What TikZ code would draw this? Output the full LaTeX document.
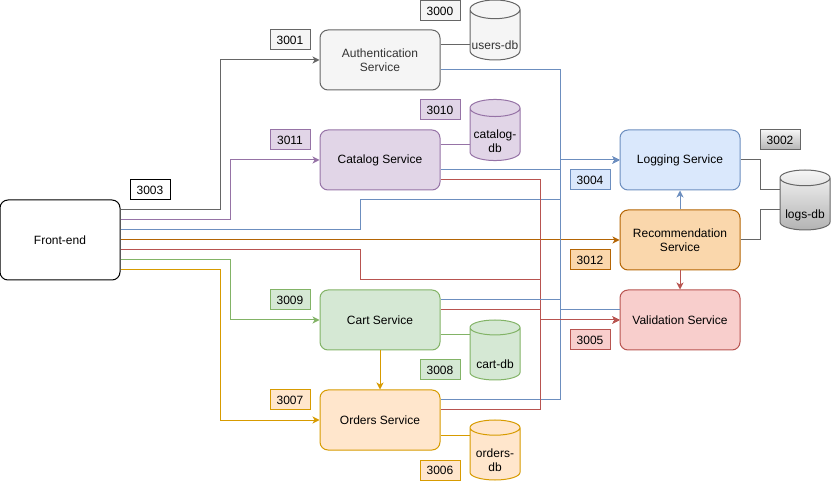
\documentclass[tikz,border=0pt]{standalone}
\usepackage{fontspec}
\setmainfont{Liberation Sans}
\usetikzlibrary{shapes.geometric,arrows.meta}

\definecolor{grayfill}{HTML}{F5F5F5}
\definecolor{grayline}{HTML}{666666}
\definecolor{graydark}{HTML}{B3B3B3}
\definecolor{purplefill}{HTML}{E1D5E7}
\definecolor{purpleline}{HTML}{9673A6}
\definecolor{bluefill}{HTML}{DAE8FC}
\definecolor{blueline}{HTML}{6C8EBF}
\definecolor{recfill}{HTML}{FAD7AC}
\definecolor{recline}{HTML}{B46504}
\definecolor{redfill}{HTML}{F8CECC}
\definecolor{redline}{HTML}{B85450}
\definecolor{greenfill}{HTML}{D5E8D4}
\definecolor{greenline}{HTML}{82B366}
\definecolor{orderfill}{HTML}{FFE6CC}
\definecolor{orderline}{HTML}{D79B00}
\definecolor{textgray}{HTML}{333333}

\tikzstyle{svc} = [draw, rounded corners=8pt, minimum width=120pt, minimum height=60pt, align=center, inner sep=2pt, font=\fontsize{12}{14}\selectfont]
\tikzstyle{port} = [draw, minimum width=40pt, minimum height=20pt, inner sep=0pt, font=\fontsize{12}{14}\selectfont]
\tikzstyle{db} = [draw, cylinder, shape border rotate=90, aspect=0.4, minimum width=50pt, minimum height=60pt, inner sep=0pt, align=center, anchor=shape center, text height=29pt, text depth=0pt, font=\fontsize{12}{14}\selectfont]

\begin{document}
\begin{tikzpicture}[x=1pt, y=-1pt, line width=1pt,
			>={Stealth[length=7pt,width=7pt,inset=2pt]},
			link/.style = {draw=#1},
			arr/.style = {draw=#1, ->, #1},
			twoline/.style = {text height=35pt, text depth=-8pt}]
			\useasboundingbox (0,0) rectangle (831,481);
			% services
			\node (fe) [svc, fill=white, draw=black, minimum height=80pt] at (60,240) {Front-end};
			\node (auth) [svc, fill=grayfill, draw=grayline, text=textgray] at (380,60) {Authentication\\Service};
			\node (cat) [svc, fill=purplefill, draw=purpleline] at (380,160) {Catalog Service};
			\node (cart) [svc, fill=greenfill, draw=greenline] at (380,320) {Cart Service};
			\node (ord) [svc, fill=orderfill, draw=orderline] at (380,420) {Orders Service};
			\node (log) [svc, fill=bluefill, draw=blueline] at (680,160) {Logging Service};
			\node (rec) [svc, fill=recfill, draw=recline] at (680,240) {Recommendation\\Service};
			\node (val) [svc, fill=redfill, draw=redline] at (680,320) {Validation Service};
			
			% databases
			\node (udb) [db, fill=grayfill, draw=grayline, text=textgray] at (495,30) {users-db};
			\node (cdb) [db, twoline, fill=purplefill, draw=purpleline] at (495,130) {catalog-\\db};
			\node (kdb) [db, fill=greenfill, draw=greenline] at (495,350) {cart-db};
			\node (odb) [db, twoline, fill=orderfill, draw=orderline] at (495,450) {orders-\\db};
			\node (ldb) [db, top color=grayfill, bottom color=graydark, draw=grayline] at (805,200) {logs-db};
			
			% ports
			\node (p3000) [port, fill=grayfill, draw=grayline] at (440,11) {3000};
			\node (p3001) [port, fill=grayfill, draw=grayline] at (290,40) {3001};
			\node (p3010) [port, fill=purplefill, draw=purpleline] at (440,110) {3010};
			\node (p3011) [port, fill=purplefill, draw=purpleline] at (290,140) {3011};
			\node (p3003) [port, fill=white, draw=black] at (150,190) {3003};
			\node (p3002) [port, top color=grayfill, bottom color=graydark, draw=grayline] at (780,140) {3002};
			\node (p3004) [port, fill=bluefill, draw=blueline] at (590,180) {3004};
			\node (p3012) [port, fill=recfill, draw=recline] at (590,260) {3012};
			\node (p3005) [port, fill=redfill, draw=redline] at (590,340) {3005};
			\node (p3009) [port, fill=greenfill, draw=greenline] at (290,300) {3009};
			\node (p3008) [port, fill=greenfill, draw=greenline] at (440,370) {3008};
			\node (p3007) [port, fill=orderfill, draw=orderline] at (290,400) {3007};
			\node (p3006) [port, fill=orderfill, draw=orderline] at (440,470) {3006};
			
			% database links
			\draw[link=grayline] ([yshift=15pt]auth.east) -- ([yshift=15pt]auth.east -| udb.west);
			\draw[link=purpleline] ([yshift=15pt]cat.east) -- ([yshift=15pt]cat.east -| cdb.west);
			\draw[link=greenline] ([yshift=-15pt]cart.east) -- ([yshift=-15pt]cart.east -| kdb.west);
			\draw[link=orderline] ([yshift=-15pt]ord.east) -- ([yshift=-15pt]ord.east -| odb.west);
			\draw[link=grayline] (log.east) -- ++(20,0) |- (ldb.west |- 0,190);
			\draw[link=grayline] (rec.east) -- ++(20,0) |- (ldb.west |- 0,210);
			
			% front-end calls
			\draw[arr=grayline] ([yshift=30pt]fe.east) -- ++(100,0) |- (auth.west);
			\draw[arr=purpleline] ([yshift=20pt]fe.east) -- ++(110,0) |- (cat.west);
			\draw[arr=blueline] ([yshift=10pt]fe.east) -- ++(240,0) -- ++(0,-30) -- ++(200,0) |- (log.west);
			\draw[arr=recline] (fe.east) -- (rec.west);
			\draw[arr=redline] ([yshift=-10pt]fe.east) -- ++(240,0) -- ++(0,30) -- ++(180,0) |- (val.west);
			\draw[arr=greenline] ([yshift=-20pt]fe.east) -- ++(110,0) |- (cart.west);
			\draw[arr=orderline] ([yshift=-30pt]fe.east) -- ++(100,0) |- (ord.west);
			
			% service calls
			\draw[arr=blueline] ([yshift=-10pt]auth.east) -- ++(120,0) |- (log.west);
			\draw[arr=blueline] ([yshift=-10pt]cat.east) -- ++(120,0) |- (log.west);
			\draw[arr=redline] ([yshift=-20pt]cat.east) -- ++(100,0) |- (val.west);
			\draw[link=blueline] ([yshift=20pt]cart.east) -- ++(120,0) |- ([yshift=10pt]val.west);
			\draw[arr=redline] ([yshift=10pt]cart.east) -- ++(100,0) |- (val.west);
			\draw[arr=blueline] ([yshift=20pt]ord.east) -- ++(120,0) |- (log.west);
			\draw[arr=redline] ([yshift=10pt]ord.east) -- ++(100,0) |- (val.west);
			\draw[arr=orderline] (cart) -- (ord);
			\draw[arr=blueline] (rec) -- (log);
			\draw[arr=redline] (rec) -- (val);
		\end{tikzpicture}
\end{document}
